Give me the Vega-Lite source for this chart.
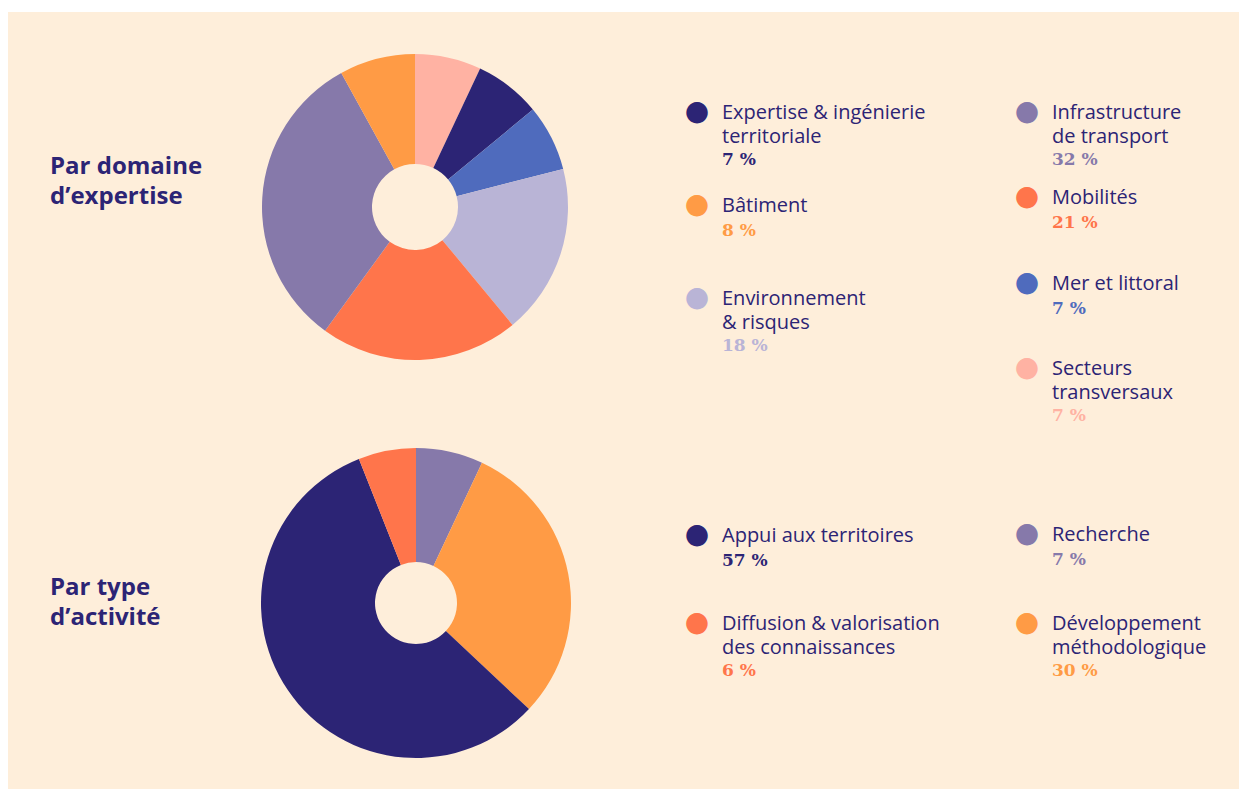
{
  "$schema": "https://vega.github.io/schema/vega-lite/v6.json",
  "background": "#FEEEDA",
  "padding": 0,
  "config": {"view": {"stroke": null, "fill": null}},
  "datasets": {
    "domaines": [
      {"nom": "Secteurs\ntransversaux", "part": 7},
      {"nom": "Expertise & ingénierie\nterritoriale", "part": 7},
      {"nom": "Mer et littoral", "part": 7},
      {"nom": "Environnement\n& risques", "part": 18},
      {"nom": "Mobilités", "part": 21},
      {"nom": "Infrastructure\nde transport", "part": 32},
      {"nom": "Bâtiment", "part": 8}
    ],
    "activites": [
      {"nom": "Recherche", "part": 7},
      {"nom": "Développement\nméthodologique", "part": 30},
      {"nom": "Appui aux territoires", "part": 57},
      {"nom": "Diffusion & valorisation\ndes connaissances", "part": 6}
    ]
  },
  "spacing": 0,
  "resolve": {"scale": {"color": "independent", "y": "independent", "theta": "independent"}},
  "vconcat": [
    {
      "width": 1239, "height": 12,
      "view": {"fill": "#ffffff", "stroke": null},
      "data": {"values": [{}]},
      "mark": {"type": "text"},
      "encoding": {"text": {"value": ""}}
    },
    {
      "spacing": 0,
      "resolve": {"scale": {"color": "independent", "y": "independent", "theta": "independent"}},
      "hconcat": [
        {
          "width": 8, "height": 777,
          "view": {"fill": "#ffffff", "stroke": null},
          "data": {"values": [{}]},
          "mark": {"type": "text"},
          "encoding": {"text": {"value": ""}}
        },
        {
          "spacing": 0,
          "bounds": "flush",
          "vconcat": [
            {
              "width": 234, "height": 390,
              "data": {"values": [{}]},
              "mark": {"type": "text", "align": "left", "baseline": "middle", "dx": -75, "dy": -40, "font": "Open Sans", "fontWeight": "bold", "fontSize": 24, "lineHeight": 30, "color": "#2C2475"},
              "encoding": {"text": {"value": ["Par domaine", "d’expertise"]}}
            },
            {
              "width": 234, "height": 387,
              "data": {"values": [{}]},
              "mark": {"type": "text", "align": "left", "baseline": "middle", "dx": -75, "dy": -7.5, "font": "Open Sans", "fontWeight": "bold", "fontSize": 24, "lineHeight": 30, "color": "#2C2475"},
              "encoding": {"text": {"value": ["Par type", "d’activité"]}}
            }
          ]
        },
        {
          "spacing": 15,
          "bounds": "flush",
          "resolve": {"scale": {"color": "independent", "theta": "independent"}},
          "vconcat": [
            {
              "width": 346, "height": 390,
              "data": {"name": "domaines"},
              "transform": [{"window": [{"op": "row_number", "as": "rang"}]}],
              "mark": {"type": "arc", "outerRadius": 153, "innerRadius": 43},
              "encoding": {
                "theta": {"field": "part", "type": "quantitative", "stack": true},
                "order": {"field": "rang", "type": "quantitative"},
                "color": {"field": "nom", "type": "nominal", "legend": null,
                  "scale": {"domain": ["Secteurs\ntransversaux", "Expertise & ingénierie\nterritoriale", "Mer et littoral", "Environnement\n& risques", "Mobilités", "Infrastructure\nde transport", "Bâtiment"],
                            "range": ["#FFB2A3", "#2C2475", "#4F6BBD", "#B9B4D6", "#FF754B", "#8679AA", "#FF9B45"]}}
              }
            },
            {
              "width": 348, "height": 372,
              "data": {"name": "activites"},
              "transform": [{"window": [{"op": "row_number", "as": "rang"}]}],
              "mark": {"type": "arc", "outerRadius": 155, "innerRadius": 41},
              "encoding": {
                "theta": {"field": "part", "type": "quantitative", "stack": true},
                "order": {"field": "rang", "type": "quantitative"},
                "color": {"field": "nom", "type": "nominal", "legend": null,
                  "scale": {"domain": ["Recherche", "Développement\nméthodologique", "Appui aux territoires", "Diffusion & valorisation\ndes connaissances"],
                            "range": ["#8679AA", "#FF9B45", "#2C2475", "#FF754B"]}}
              }
            }
          ]
        },
        {
          "spacing": 63,
          "bounds": "flush",
          "resolve": {"scale": {"color": "independent", "y": "independent"}},
          "vconcat": [
            {
              "width": 410, "height": 372,
              "data": {"name": "domaines"},
              "transform": [
                {"filter": {"field": "nom", "oneOf": ["Expertise & ingénierie\nterritoriale", "Bâtiment", "Environnement\n& risques"]}},
                {"calculate": "datum.part + ' %'", "as": "etiquette"}
              ],
              "encoding": {
                "y": {"field": "nom", "type": "nominal", "axis": null,
                  "sort": ["Expertise & ingénierie\nterritoriale", "Bâtiment", "Environnement\n& risques"],
                  "scale": {"type": "point", "padding": 0.997, "align": 0.537}}
              },
              "layer": [
                {
                  "mark": {"type": "text", "text": "●", "font": "DejaVu Sans", "fontSize": 28, "align": "center", "baseline": "middle", "dx": -98},
                  "encoding": {"color": {"field": "nom", "type": "nominal", "legend": null,
                    "scale": {"domain": ["Secteurs\ntransversaux", "Expertise & ingénierie\nterritoriale", "Mer et littoral", "Environnement\n& risques", "Mobilités", "Infrastructure\nde transport", "Bâtiment"],
                              "range": ["#FFB2A3", "#2C2475", "#4F6BBD", "#B9B4D6", "#FF754B", "#8679AA", "#FF9B45"]}}}
                },
                {
                  "mark": {"type": "text", "font": "Open Sans", "fontSize": 20, "lineHeight": 24, "lineBreak": "\n", "align": "left", "baseline": "alphabetic", "dx": -73, "dy": 7, "color": "#2C2475"},
                  "encoding": {"text": {"field": "nom", "type": "nominal"}}
                },
                {
                  "transform": [{"filter": "!test(/\\n/, datum.nom)"}],
                  "mark": {"type": "text", "font": "DejaVu Serif", "fontWeight": "bold", "fontSize": 17, "align": "left", "baseline": "alphabetic", "dx": -73, "dy": 31},
                  "encoding": {"text": {"field": "etiquette", "type": "nominal"},
                    "color": {"field": "nom", "type": "nominal", "legend": null,
                      "scale": {"domain": ["Secteurs\ntransversaux", "Expertise & ingénierie\nterritoriale", "Mer et littoral", "Environnement\n& risques", "Mobilités", "Infrastructure\nde transport", "Bâtiment"],
                                "range": ["#FFB2A3", "#2C2475", "#4F6BBD", "#B9B4D6", "#FF754B", "#8679AA", "#FF9B45"]}}}
                },
                {
                  "transform": [{"filter": "test(/\\n/, datum.nom)"}],
                  "mark": {"type": "text", "font": "DejaVu Serif", "fontWeight": "bold", "fontSize": 17, "align": "left", "baseline": "alphabetic", "dx": -73, "dy": 53},
                  "encoding": {"text": {"field": "etiquette", "type": "nominal"},
                    "color": {"field": "nom", "type": "nominal", "legend": null,
                      "scale": {"domain": ["Secteurs\ntransversaux", "Expertise & ingénierie\nterritoriale", "Mer et littoral", "Environnement\n& risques", "Mobilités", "Infrastructure\nde transport", "Bâtiment"],
                                "range": ["#FFB2A3", "#2C2475", "#4F6BBD", "#B9B4D6", "#FF754B", "#8679AA", "#FF9B45"]}}}
                }
              ]
            },
            {
              "width": 410, "height": 264,
              "data": {"name": "activites"},
              "transform": [
                {"filter": {"field": "nom", "oneOf": ["Appui aux territoires", "Diffusion & valorisation\ndes connaissances"]}},
                {"calculate": "datum.part + ' %'", "as": "etiquette"}
              ],
              "encoding": {
                "y": {"field": "nom", "type": "nominal", "axis": null,
                  "sort": ["Appui aux territoires", "Diffusion & valorisation\ndes connaissances"],
                  "scale": {"type": "point", "padding": 1, "align": 0.5}}
              },
              "layer": [
                {
                  "mark": {"type": "text", "text": "●", "font": "DejaVu Sans", "fontSize": 28, "align": "center", "baseline": "middle", "dx": -98},
                  "encoding": {"color": {"field": "nom", "type": "nominal", "legend": null,
                    "scale": {"domain": ["Recherche", "Développement\nméthodologique", "Appui aux territoires", "Diffusion & valorisation\ndes connaissances"],
                              "range": ["#8679AA", "#FF9B45", "#2C2475", "#FF754B"]}}}
                },
                {
                  "mark": {"type": "text", "font": "Open Sans", "fontSize": 20, "lineHeight": 24, "lineBreak": "\n", "align": "left", "baseline": "alphabetic", "dx": -73, "dy": 7, "color": "#2C2475"},
                  "encoding": {"text": {"field": "nom", "type": "nominal"}}
                },
                {
                  "transform": [{"filter": "!test(/\\n/, datum.nom)"}],
                  "mark": {"type": "text", "font": "DejaVu Serif", "fontWeight": "bold", "fontSize": 17, "align": "left", "baseline": "alphabetic", "dx": -73, "dy": 31},
                  "encoding": {"text": {"field": "etiquette", "type": "nominal"},
                    "color": {"field": "nom", "type": "nominal", "legend": null,
                      "scale": {"domain": ["Recherche", "Développement\nméthodologique", "Appui aux territoires", "Diffusion & valorisation\ndes connaissances"],
                                "range": ["#8679AA", "#FF9B45", "#2C2475", "#FF754B"]}}}
                },
                {
                  "transform": [{"filter": "test(/\\n/, datum.nom)"}],
                  "mark": {"type": "text", "font": "DejaVu Serif", "fontWeight": "bold", "fontSize": 17, "align": "left", "baseline": "alphabetic", "dx": -73, "dy": 53},
                  "encoding": {"text": {"field": "etiquette", "type": "nominal"},
                    "color": {"field": "nom", "type": "nominal", "legend": null,
                      "scale": {"domain": ["Recherche", "Développement\nméthodologique", "Appui aux territoires", "Diffusion & valorisation\ndes connaissances"],
                                "range": ["#8679AA", "#FF9B45", "#2C2475", "#FF754B"]}}}
                }
              ]
            }
          ]
        },
        {
          "spacing": 43,
          "bounds": "flush",
          "resolve": {"scale": {"color": "independent", "y": "independent"}},
          "vconcat": [
            {
              "width": 239, "height": 390,
              "data": {"name": "domaines"},
              "transform": [
                {"filter": {"field": "nom", "oneOf": ["Infrastructure\nde transport", "Mobilités", "Mer et littoral", "Secteurs\ntransversaux"]}},
                {"calculate": "datum.part + ' %'", "as": "etiquette"}
              ],
              "encoding": {
                "y": {"field": "nom", "type": "nominal", "axis": null,
                  "sort": ["Infrastructure\nde transport", "Mobilités", "Mer et littoral", "Secteurs\ntransversaux"],
                  "scale": {"type": "point", "padding": 0.7825, "align": 0.7457}}
              },
              "layer": [
                {
                  "mark": {"type": "text", "text": "●", "font": "DejaVu Sans", "fontSize": 28, "align": "center", "baseline": "middle", "dx": -92.5},
                  "encoding": {"color": {"field": "nom", "type": "nominal", "legend": null,
                    "scale": {"domain": ["Secteurs\ntransversaux", "Expertise & ingénierie\nterritoriale", "Mer et littoral", "Environnement\n& risques", "Mobilités", "Infrastructure\nde transport", "Bâtiment"],
                              "range": ["#FFB2A3", "#2C2475", "#4F6BBD", "#B9B4D6", "#FF754B", "#8679AA", "#FF9B45"]}}}
                },
                {
                  "mark": {"type": "text", "font": "Open Sans", "fontSize": 20, "lineHeight": 24, "lineBreak": "\n", "align": "left", "baseline": "alphabetic", "dx": -67.5, "dy": 7, "color": "#2C2475"},
                  "encoding": {"text": {"field": "nom", "type": "nominal"}}
                },
                {
                  "transform": [{"filter": "!test(/\\n/, datum.nom)"}],
                  "mark": {"type": "text", "font": "DejaVu Serif", "fontWeight": "bold", "fontSize": 17, "align": "left", "baseline": "alphabetic", "dx": -67.5, "dy": 31},
                  "encoding": {"text": {"field": "etiquette", "type": "nominal"},
                    "color": {"field": "nom", "type": "nominal", "legend": null,
                      "scale": {"domain": ["Secteurs\ntransversaux", "Expertise & ingénierie\nterritoriale", "Mer et littoral", "Environnement\n& risques", "Mobilités", "Infrastructure\nde transport", "Bâtiment"],
                                "range": ["#FFB2A3", "#2C2475", "#4F6BBD", "#B9B4D6", "#FF754B", "#8679AA", "#FF9B45"]}}}
                },
                {
                  "transform": [{"filter": "test(/\\n/, datum.nom)"}],
                  "mark": {"type": "text", "font": "DejaVu Serif", "fontWeight": "bold", "fontSize": 17, "align": "left", "baseline": "alphabetic", "dx": -67.5, "dy": 53},
                  "encoding": {"text": {"field": "etiquette", "type": "nominal"},
                    "color": {"field": "nom", "type": "nominal", "legend": null,
                      "scale": {"domain": ["Secteurs\ntransversaux", "Expertise & ingénierie\nterritoriale", "Mer et littoral", "Environnement\n& risques", "Mobilités", "Infrastructure\nde transport", "Bâtiment"],
                                "range": ["#FFB2A3", "#2C2475", "#4F6BBD", "#B9B4D6", "#FF754B", "#8679AA", "#FF9B45"]}}}
                }
              ]
            },
            {
              "width": 239, "height": 267,
              "data": {"name": "activites"},
              "transform": [
                {"filter": {"field": "nom", "oneOf": ["Recherche", "Développement\nméthodologique"]}},
                {"calculate": "datum.part + ' %'", "as": "etiquette"}
              ],
              "encoding": {
                "y": {"field": "nom", "type": "nominal", "axis": null,
                  "sort": ["Recherche", "Développement\nméthodologique"],
                  "scale": {"type": "point", "padding": 1, "align": 0.5}}
              },
              "layer": [
                {
                  "mark": {"type": "text", "text": "●", "font": "DejaVu Sans", "fontSize": 28, "align": "center", "baseline": "middle", "dx": -92.5},
                  "encoding": {"color": {"field": "nom", "type": "nominal", "legend": null,
                    "scale": {"domain": ["Recherche", "Développement\nméthodologique", "Appui aux territoires", "Diffusion & valorisation\ndes connaissances"],
                              "range": ["#8679AA", "#FF9B45", "#2C2475", "#FF754B"]}}}
                },
                {
                  "mark": {"type": "text", "font": "Open Sans", "fontSize": 20, "lineHeight": 24, "lineBreak": "\n", "align": "left", "baseline": "alphabetic", "dx": -67.5, "dy": 7, "color": "#2C2475"},
                  "encoding": {"text": {"field": "nom", "type": "nominal"}}
                },
                {
                  "transform": [{"filter": "!test(/\\n/, datum.nom)"}],
                  "mark": {"type": "text", "font": "DejaVu Serif", "fontWeight": "bold", "fontSize": 17, "align": "left", "baseline": "alphabetic", "dx": -67.5, "dy": 31},
                  "encoding": {"text": {"field": "etiquette", "type": "nominal"},
                    "color": {"field": "nom", "type": "nominal", "legend": null,
                      "scale": {"domain": ["Recherche", "Développement\nméthodologique", "Appui aux territoires", "Diffusion & valorisation\ndes connaissances"],
                                "range": ["#8679AA", "#FF9B45", "#2C2475", "#FF754B"]}}}
                },
                {
                  "transform": [{"filter": "test(/\\n/, datum.nom)"}],
                  "mark": {"type": "text", "font": "DejaVu Serif", "fontWeight": "bold", "fontSize": 17, "align": "left", "baseline": "alphabetic", "dx": -67.5, "dy": 53},
                  "encoding": {"text": {"field": "etiquette", "type": "nominal"},
                    "color": {"field": "nom", "type": "nominal", "legend": null,
                      "scale": {"domain": ["Recherche", "Développement\nméthodologique", "Appui aux territoires", "Diffusion & valorisation\ndes connaissances"],
                                "range": ["#8679AA", "#FF9B45", "#2C2475", "#FF754B"]}}}
                }
              ]
            }
          ]
        }
      ]
    }
  ]
}
